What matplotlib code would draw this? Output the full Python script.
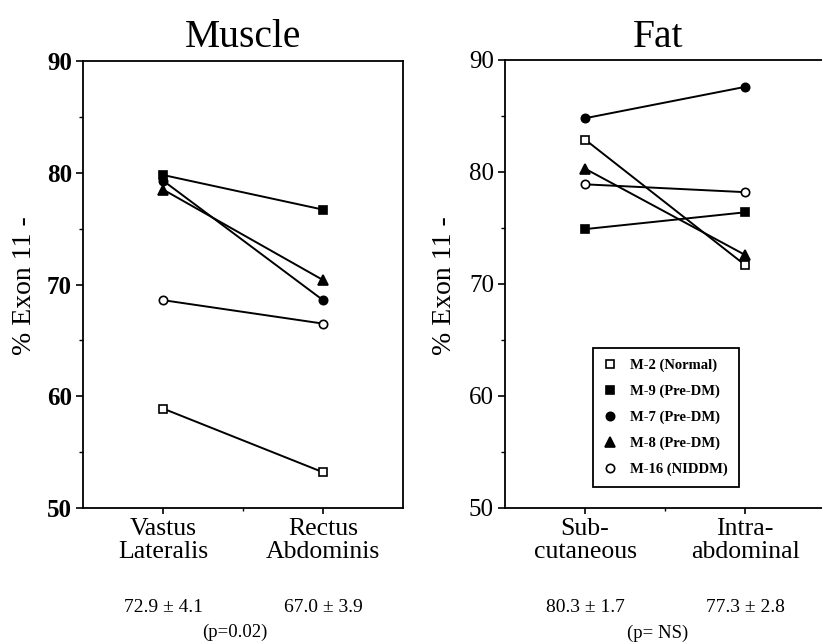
import matplotlib.pyplot as plt
from matplotlib.ticker import MultipleLocator, FixedLocator

plt.rcParams['font.family'] = ['Liberation Serif', 'DejaVu Serif']

# subjects and marker styles
subjects = ['M-2 (Normal)', 'M-9 (Pre-DM)', 'M-7 (Pre-DM)', 'M-8 (Pre-DM)', 'M-16 (NIDDM)']
markers = ['s', 's', 'o', '^', 'o']
filled = [False, True, True, True, False]

# % Exon 11- values
muscle_sites = ['Vastus\nLateralis', 'Rectus\nAbdominis']
muscle_vals = [
    [58.9, 53.2],
    [79.8, 76.7],
    [79.3, 68.6],
    [78.5, 70.4],
    [68.6, 66.5],
]
muscle_means = ['72.9 ± 4.1', '67.0 ± 3.9']
muscle_p = '(p=0.02)'

fat_sites = ['Sub-\ncutaneous', 'Intra-\nabdominal']
fat_vals = [
    [82.9, 71.7],
    [74.9, 76.4],
    [84.8, 87.6],
    [80.3, 72.6],
    [78.9, 78.2],
]
fat_means = ['80.3 ± 1.7', '77.3 ± 2.8']
fat_p = '(p= NS)'

W, H = 822, 644
fig = plt.figure(figsize=(W / 100, H / 100), dpi=100)

ax1 = fig.add_axes([83 / W, 1 - 508 / H, 320 / W, 447 / H])
ax2 = fig.add_axes([505 / W, 1 - 508 / H, 320 / W, 448 / H])


def draw_panel(ax, vals, sites, means, tick_weight):
    x = [1, 2]
    for v, m, f, name in zip(vals, markers, filled, subjects):
        ax.plot(x, v, color='black', lw=1.4, marker=m, ms=6 if m != '^' else 6.5,
                mfc='black' if f else 'white', mec='black', mew=1.2, label=name)
    ax.set_xlim(0.5, 2.5)
    ax.set_ylim(50, 90)
    ax.yaxis.set_major_locator(MultipleLocator(10))
    ax.yaxis.set_minor_locator(MultipleLocator(5))
    ax.set_xticks(x)
    ax.set_xticklabels(sites, fontsize=18.5, linespacing=1.05)
    ax.xaxis.set_minor_locator(FixedLocator([1.5]))
    ax.tick_params(axis='y', which='major', length=5, width=1.2, labelsize=18, pad=3)
    ax.tick_params(axis='y', which='minor', length=3, width=1.0)
    ax.tick_params(axis='x', which='major', length=4, width=1.2, pad=3)
    ax.tick_params(axis='x', which='minor', length=2, width=1.0)
    for lab in ax.get_yticklabels():
        lab.set_fontweight(tick_weight)
    for sp in ax.spines.values():
        sp.set_linewidth(1.3)
    ax.set_ylabel('% Exon 11 -', fontsize=20)
    tr = ax.get_xaxis_transform()
    for xi, txt in zip(x, means):
        ax.text(xi, -0.222, txt, transform=tr, ha='center', va='center', fontsize=14)


draw_panel(ax1, muscle_vals, muscle_sites, muscle_means, 'bold')
draw_panel(ax2, fat_vals, fat_sites, fat_means, 'normal')

ax1.yaxis.set_label_coords(-0.143, 0.497)
ax2.yaxis.set_label_coords(-0.150, 0.497)

fig.text(243 / W, 1 - 47 / H, 'Muscle', ha='center', va='baseline', fontsize=28.5)
fig.text(658 / W, 1 - 47 / H, 'Fat', ha='center', va='baseline', fontsize=28.5)

fig.text(235 / W, 1 - 632 / H, muscle_p, ha='center', va='center', fontsize=13.5)
fig.text(658 / W, 1 - 633 / H, fat_p, ha='center', va='center', fontsize=13.5)

leg = ax2.legend(loc='lower left', bbox_to_anchor=(0.275, 0.047), borderaxespad=0,
                 frameon=True, fancybox=False, edgecolor='black', framealpha=1,
                 prop={'size': 10.5, 'weight': 'bold'}, handlelength=0.8,
                 handletextpad=1.0, labelspacing=0.85, borderpad=0.75)
for h in leg.legend_handles:
    h.set_linestyle('none')
leg.get_frame().set_linewidth(1.3)

fig.savefig('out.png', dpi=100)
